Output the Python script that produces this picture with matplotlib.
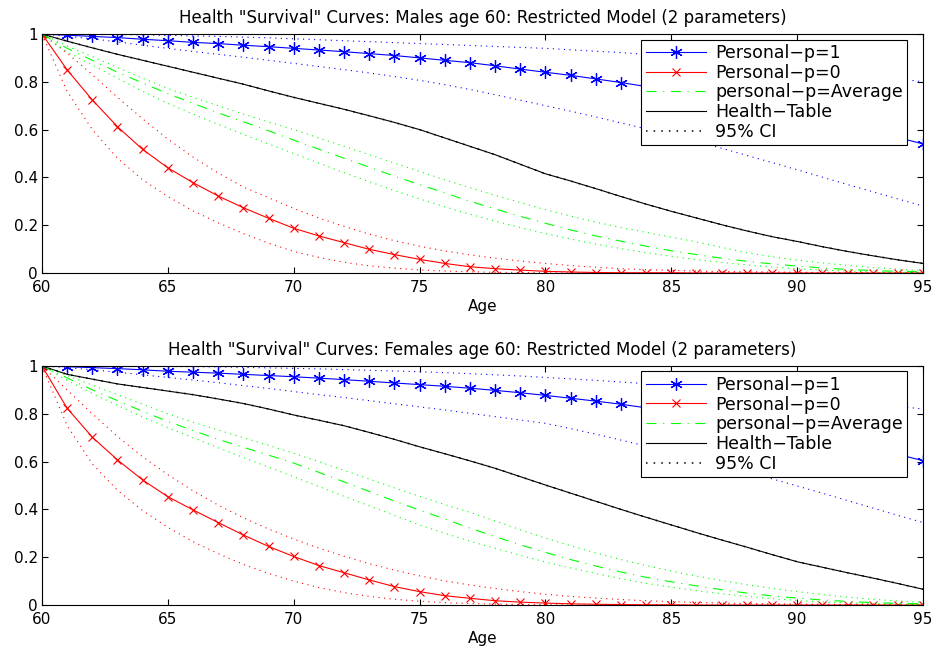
import matplotlib
matplotlib.use("Agg")
import matplotlib.pyplot as plt

ages = list(range(60, 96))

# ---- males ----
m_p1 = [1.0, 0.995, 0.99, 0.985, 0.978, 0.972, 0.965, 0.96, 0.953, 0.947, 0.94, 0.933, 0.926, 0.918,
        0.91, 0.9, 0.89, 0.88, 0.867, 0.853, 0.84, 0.827, 0.812, 0.797, 0.78, 0.762, 0.743, 0.724,
        0.704, 0.683, 0.662, 0.64, 0.617, 0.593, 0.567, 0.54]
m_p1_hi = [1.0, 1.0, 0.999, 0.998, 0.996, 0.994, 0.992, 0.99, 0.987, 0.984, 0.98, 0.976, 0.972, 0.968,
           0.964, 0.96, 0.956, 0.952, 0.948, 0.944, 0.94, 0.934, 0.928, 0.922, 0.915, 0.907, 0.899, 0.89,
           0.881, 0.871, 0.86, 0.849, 0.838, 0.826, 0.813, 0.80]
m_p1_lo = [1.0, 0.99, 0.98, 0.967, 0.953, 0.94, 0.927, 0.915, 0.903, 0.89, 0.877, 0.864, 0.851, 0.837,
           0.822, 0.806, 0.788, 0.768, 0.746, 0.723, 0.70, 0.677, 0.653, 0.628, 0.603, 0.577, 0.55, 0.522,
           0.492, 0.462, 0.432, 0.401, 0.37, 0.34, 0.31, 0.28]
m_p0 = [1.0, 0.85, 0.724, 0.612, 0.517, 0.44, 0.378, 0.322, 0.273, 0.229, 0.187, 0.155, 0.127, 0.099,
        0.077, 0.057, 0.04, 0.026, 0.018, 0.012, 0.007, 0.004, 0.002, 0.001, 0.001, 0.001, 0.0, 0.0,
        0.0, 0.0, 0.0, 0.0, 0.0, 0.0, 0.0, 0.0]
m_p0_hi = [1.0, 0.92, 0.83, 0.735, 0.645, 0.56, 0.485, 0.418, 0.36, 0.315, 0.27, 0.23, 0.195, 0.163,
           0.135, 0.112, 0.092, 0.076, 0.062, 0.05, 0.04, 0.031, 0.024, 0.018, 0.014, 0.011, 0.008, 0.006,
           0.005, 0.004, 0.003, 0.002, 0.002, 0.001, 0.001, 0.001]
m_p0_lo = [1.0, 0.76, 0.6, 0.48, 0.39, 0.32, 0.26, 0.21, 0.165, 0.125, 0.09, 0.065, 0.045, 0.03,
           0.02, 0.013, 0.008, 0.005, 0.003, 0.002, 0.001, 0.0, 0.0, 0.0, 0.0, 0.0, 0.0, 0.0,
           0.0, 0.0, 0.0, 0.0, 0.0, 0.0, 0.0, 0.0]
m_avg = [1.0, 0.94, 0.89, 0.84, 0.795, 0.75, 0.71, 0.67, 0.633, 0.595, 0.556, 0.518, 0.48, 0.443,
         0.405, 0.37, 0.335, 0.30, 0.268, 0.237, 0.208, 0.18, 0.155, 0.133, 0.112, 0.093, 0.077, 0.062,
         0.049, 0.038, 0.029, 0.021, 0.015, 0.01, 0.007, 0.005]
m_avg_hi = [1.0, 0.95, 0.905, 0.86, 0.815, 0.772, 0.735, 0.7, 0.665, 0.632, 0.6, 0.565, 0.53, 0.495,
            0.46, 0.425, 0.39, 0.357, 0.325, 0.295, 0.265, 0.238, 0.213, 0.19, 0.17, 0.15, 0.13, 0.107,
            0.085, 0.068, 0.054, 0.042, 0.032, 0.023, 0.016, 0.01]
m_avg_lo = [1.0, 0.925, 0.87, 0.815, 0.76, 0.71, 0.665, 0.622, 0.58, 0.54, 0.5, 0.46, 0.42, 0.382,
            0.345, 0.31, 0.277, 0.246, 0.217, 0.19, 0.165, 0.142, 0.121, 0.102, 0.085, 0.07, 0.056, 0.044,
            0.034, 0.025, 0.018, 0.012, 0.008, 0.005, 0.003, 0.002]
m_health = [1.0, 0.97, 0.942, 0.915, 0.89, 0.865, 0.84, 0.815, 0.79, 0.762, 0.735, 0.71, 0.685, 0.658,
            0.63, 0.6, 0.565, 0.53, 0.495, 0.455, 0.415, 0.385, 0.353, 0.32, 0.288, 0.258, 0.23, 0.202,
            0.176, 0.152, 0.132, 0.11, 0.09, 0.072, 0.055, 0.04]

# ---- females ----
f_p1 = [1.0, 0.997, 0.993, 0.989, 0.984, 0.978, 0.974, 0.97, 0.965, 0.96, 0.955, 0.949, 0.943, 0.936,
        0.929, 0.922, 0.915, 0.907, 0.898, 0.888, 0.877, 0.865, 0.853, 0.84, 0.825, 0.81, 0.795, 0.778,
        0.76, 0.74, 0.72, 0.70, 0.68, 0.655, 0.63, 0.604]
f_p1_hi = [1.0, 1.0, 1.0, 0.999, 0.999, 0.998, 0.997, 0.996, 0.994, 0.992, 0.99, 0.988, 0.985, 0.982,
           0.979, 0.976, 0.972, 0.968, 0.963, 0.958, 0.952, 0.946, 0.94, 0.933, 0.926, 0.918, 0.91, 0.901,
           0.892, 0.882, 0.872, 0.862, 0.852, 0.842, 0.831, 0.82]
f_p1_lo = [1.0, 0.993, 0.984, 0.974, 0.963, 0.952, 0.941, 0.93, 0.918, 0.906, 0.893, 0.88, 0.868, 0.855,
           0.842, 0.829, 0.816, 0.802, 0.788, 0.774, 0.76, 0.738, 0.715, 0.69, 0.665, 0.64, 0.613, 0.585,
           0.557, 0.528, 0.498, 0.468, 0.437, 0.406, 0.375, 0.345]
f_p0 = [1.0, 0.823, 0.702, 0.607, 0.523, 0.453, 0.398, 0.345, 0.293, 0.245, 0.203, 0.165, 0.135, 0.105,
        0.077, 0.056, 0.039, 0.028, 0.018, 0.012, 0.008, 0.005, 0.003, 0.002, 0.001, 0.001, 0.0, 0.0,
        0.0, 0.0, 0.0, 0.0, 0.0, 0.0, 0.0, 0.0]
f_p0_hi = [1.0, 0.9, 0.8, 0.705, 0.62, 0.545, 0.478, 0.418, 0.365, 0.318, 0.276, 0.238, 0.204, 0.173,
           0.146, 0.122, 0.101, 0.084, 0.069, 0.056, 0.045, 0.036, 0.029, 0.023, 0.018, 0.014, 0.011, 0.008,
           0.006, 0.005, 0.004, 0.003, 0.002, 0.002, 0.001, 0.001]
f_p0_lo = [1.0, 0.75, 0.59, 0.48, 0.395, 0.325, 0.265, 0.215, 0.17, 0.132, 0.1, 0.073, 0.052, 0.036,
           0.024, 0.016, 0.01, 0.006, 0.004, 0.002, 0.001, 0.0, 0.0, 0.0, 0.0, 0.0, 0.0, 0.0,
           0.0, 0.0, 0.0, 0.0, 0.0, 0.0, 0.0, 0.0]
f_avg = [1.0, 0.95, 0.9, 0.855, 0.81, 0.768, 0.73, 0.693, 0.66, 0.627, 0.594, 0.555, 0.515, 0.475,
         0.435, 0.397, 0.36, 0.322, 0.286, 0.252, 0.22, 0.19, 0.163, 0.138, 0.116, 0.097, 0.08, 0.064,
         0.05, 0.038, 0.029, 0.021, 0.015, 0.01, 0.007, 0.005]
f_avg_hi = [1.0, 0.96, 0.92, 0.88, 0.84, 0.8, 0.765, 0.732, 0.7, 0.668, 0.635, 0.6, 0.563, 0.527,
            0.49, 0.455, 0.42, 0.388, 0.352, 0.315, 0.28, 0.248, 0.218, 0.19, 0.165, 0.142, 0.121, 0.102,
            0.085, 0.07, 0.056, 0.044, 0.033, 0.024, 0.017, 0.011]
f_avg_lo = [1.0, 0.94, 0.885, 0.835, 0.787, 0.742, 0.7, 0.658, 0.617, 0.577, 0.537, 0.496, 0.455, 0.415,
            0.375, 0.335, 0.3, 0.267, 0.237, 0.208, 0.18, 0.155, 0.132, 0.11, 0.091, 0.075, 0.06, 0.047,
            0.036, 0.027, 0.019, 0.013, 0.009, 0.006, 0.004, 0.003]
f_health = [1.0, 0.965, 0.945, 0.925, 0.91, 0.895, 0.88, 0.862, 0.843, 0.82, 0.795, 0.773, 0.75, 0.722,
            0.693, 0.662, 0.633, 0.603, 0.572, 0.537, 0.502, 0.468, 0.434, 0.4, 0.367, 0.335, 0.303, 0.272,
            0.242, 0.211, 0.181, 0.158, 0.135, 0.113, 0.09, 0.066]

titles = ['Health "Survival" Curves: Males age 60: Restricted Model (2 parameters)',
          'Health "Survival" Curves: Females age 60: Restricted Model (2 parameters)']
labels = ['Personal\u2212p=1', 'Personal\u2212p=0', 'personal\u2212p=Average', 'Health\u2212Table', '95% CI']

# the original text is a wide helvetica, DejaVu is the closest in width
plt.rcParams['font.family'] = ['DejaVu Sans']

dot = (0, (1, 4))
dashdot = (0, (9, 6, 1, 6))
asterisk = (6, 2, 0)

fig = plt.figure(figsize=(9.39, 6.54), dpi=100)
ax1 = fig.add_axes([0.0447, 0.5826, 0.9383, 0.3654])
ax2 = fig.add_axes([0.0447, 0.0749, 0.9383, 0.3655])

panels = [
    (ax1, m_p1, m_p1_hi, m_p1_lo, m_p0, m_p0_hi, m_p0_lo, m_avg, m_avg_hi, m_avg_lo, m_health),
    (ax2, f_p1, f_p1_hi, f_p1_lo, f_p0, f_p0_hi, f_p0_lo, f_avg, f_avg_hi, f_avg_lo, f_health),
]

for i, (ax, p1, p1h, p1l, p0, p0h, p0l, av, avh, avl, hlt) in enumerate(panels):
    l1, = ax.plot(ages, p1, color='blue', lw=0.8, marker=asterisk, ms=9, mew=0.9)
    l2, = ax.plot(ages, p0, color='red', lw=0.8, marker='x', ms=6, mew=0.8)
    l3, = ax.plot(ages, av, color=(0, 1, 0), lw=0.8, linestyle=dashdot)
    l4, = ax.plot(ages, hlt, color='black', lw=0.8)
    # confidence bands
    ax.plot(ages, p1h, color='blue', lw=0.8, linestyle=dot)
    ax.plot(ages, p1l, color='blue', lw=0.8, linestyle=dot)
    ax.plot(ages, p0h, color='red', lw=0.8, linestyle=dot)
    ax.plot(ages, p0l, color='red', lw=0.8, linestyle=dot)
    ax.plot(ages, avh, color=(0, 1, 0), lw=0.8, linestyle=dot)
    ax.plot(ages, avl, color=(0, 1, 0), lw=0.8, linestyle=dot)
    l5, = ax.plot(ages, hlt, color='black', lw=1.1, linestyle=dot)

    ax.set_xlim(60, 95)
    ax.set_ylim(0, 1)
    ax.set_xticks(range(60, 96, 5))
    ax.set_yticks([0, 0.2, 0.4, 0.6, 0.8, 1])
    ax.set_yticklabels(['0', '0.2', '0.4', '0.6', '0.8', '1'])
    ax.tick_params(direction='in', top=True, right=True, length=4, width=0.8, labelsize=11)
    ax.tick_params(axis='x', pad=5)
    ax.tick_params(axis='y', pad=3)
    for s in ax.spines.values():
        s.set_linewidth(0.8)
    ax.set_xlabel('Age', fontsize=11, labelpad=3)
    ax.set_title(titles[i], fontsize=12, pad=8)

    leg = ax.legend([l1, l2, l3, l4, l5], labels, loc='upper right',
                    bbox_to_anchor=(0.982, 0.977), borderaxespad=0, fontsize=12.5,
                    handlelength=3.5, labelspacing=0.1, handletextpad=0.5,
                    borderpad=0.25, fancybox=False, framealpha=1, edgecolor='black')
    leg.get_frame().set_linewidth(0.8)

fig.savefig('out.png', dpi=100)
